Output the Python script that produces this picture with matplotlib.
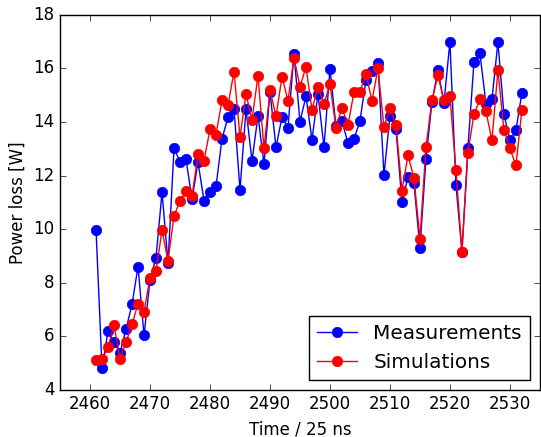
import numpy as np
import matplotlib
matplotlib.use('Agg')
import matplotlib.pyplot as plt

plt.style.use('classic')

# Data
time_steps = np.arange(2461, 2533)

measurements = [
    9.96, 4.81, 6.21, 5.78, 5.38, 6.27, 7.19, 8.60, 6.03, 8.11,
    8.94, 11.38, 8.74, 13.01, 12.52, 12.60, 11.12, 12.50, 11.06, 11.38,
    11.60, 13.37, 14.19, 14.50, 11.46, 14.48, 12.54, 14.24, 12.43, 15.12,
    13.05, 14.19, 13.78, 16.54, 14.01, 14.96, 13.34, 15.04, 13.06, 15.98,
    13.84, 14.03, 13.21, 13.35, 14.05, 15.56, 15.91, 16.21, 12.01, 14.24,
    13.74, 11.01, 11.94, 11.71, 9.29, 12.61, 14.75, 15.94, 14.71, 17.00,
    11.65, 9.16, 13.04, 16.23, 16.56, 14.69, 14.84, 16.98, 14.29, 13.31,
    13.69, 15.09,
]

simulations = [
    5.10, 5.14, 5.59, 6.41, 5.16, 5.78, 6.44, 7.22, 6.92, 8.19,
    8.44, 9.96, 8.81, 10.50, 11.04, 11.42, 11.24, 12.79, 12.56, 13.72,
    13.53, 14.81, 14.63, 15.88, 13.44, 15.04, 14.09, 15.72, 13.01, 15.19,
    14.21, 15.69, 14.80, 16.40, 15.31, 16.06, 14.46, 15.29, 14.69, 15.41,
    13.79, 14.53, 13.88, 15.11, 15.13, 15.79, 14.79, 16.00, 13.81, 14.51,
    13.90, 11.44, 12.75, 11.91, 9.64, 13.06, 14.81, 15.74, 14.81, 14.96,
    12.21, 9.16, 12.85, 14.30, 14.84, 14.41, 13.31, 15.94, 13.69, 13.01,
    12.38, 14.46,
]

fig = plt.figure(figsize=(5.41, 4.37), dpi=100)
fig.patch.set_facecolor('white')
ax = fig.add_axes([0.111, 0.108, 0.887, 0.858])

ax.plot(time_steps, measurements, 'o-', color='b', markeredgecolor='b',
        markersize=7.5, linewidth=1.0, label='Measurements')
ax.plot(time_steps, simulations, 'o-', color='r', markeredgecolor='r',
        markersize=7.5, linewidth=1.0, label='Simulations')

ax.set_xlim(2455, 2535)
ax.set_ylim(4, 18)
ax.set_xticks(np.arange(2460, 2531, 10))
ax.set_yticks(np.arange(4, 19, 2))
ax.tick_params(labelsize=12)
ax.set_xlabel('Time / 25 ns', fontsize=12)
ax.set_ylabel('Power loss [W]', fontsize=12)

ax.legend(loc='lower right', numpoints=1, fontsize=14.4, fancybox=False)

fig.savefig('out.png', dpi=100, facecolor='white')
